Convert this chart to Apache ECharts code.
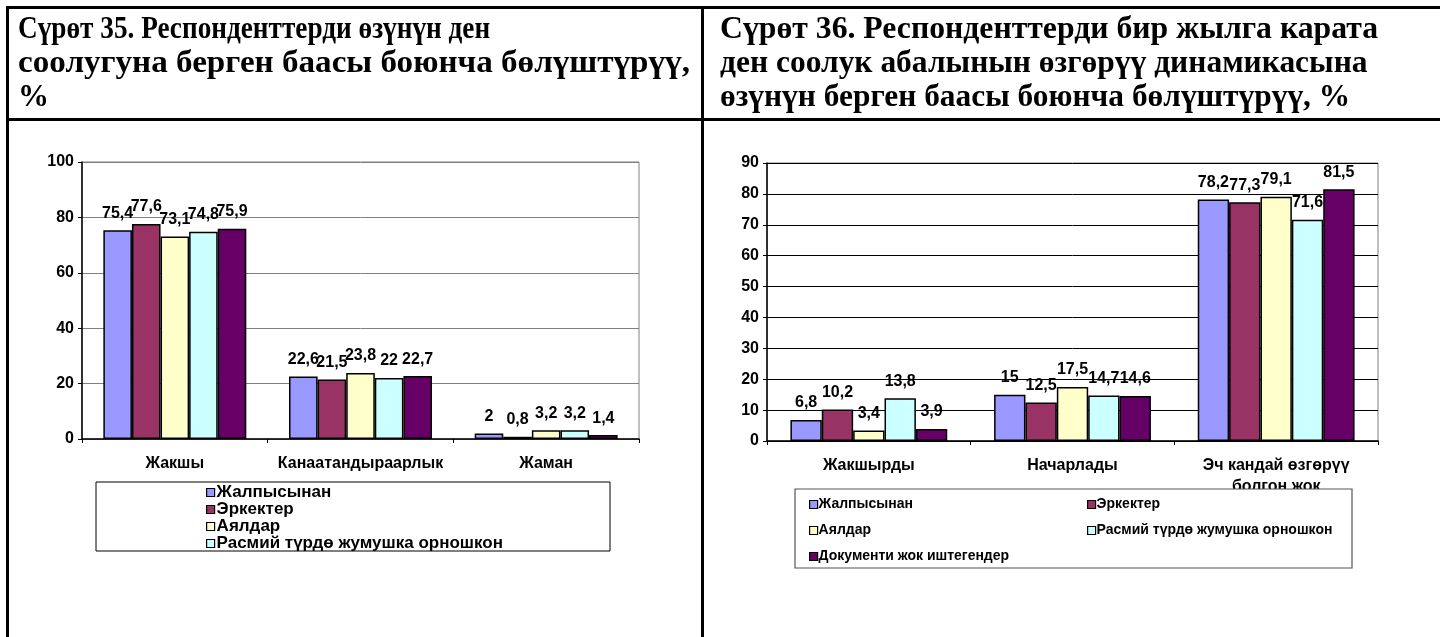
<!DOCTYPE html>
<html>
<head>
<meta charset="utf-8">
<script src="https://cdn.jsdelivr.net/npm/echarts@6/dist/echarts.min.js"></script>
<style>
  html, body { margin: 0; padding: 0; background: #fff; }
  #page { position: relative; width: 1440px; height: 637px; overflow: hidden; }
  #chart { position: absolute; left: 0; top: 0; width: 1440px; height: 637px; }
  .ln { position: absolute; background: #000; }
  .ttl { position: absolute; font-family: "Liberation Serif", "DejaVu Serif", serif; font-weight: bold;
         font-size: 31px; line-height: 34px; white-space: nowrap; transform-origin: left top; color: #000; }
</style>
</head>
<body>
<div id="page">
  <div id="chart"></div>
  <div class="ln" style="left:6px;top:6px;width:1434px;height:3px"></div>
  <div class="ln" style="left:6px;top:6px;width:3px;height:631px"></div>
  <div class="ln" style="left:6px;top:118px;width:1434px;height:3px"></div>
  <div class="ln" style="left:701px;top:6px;width:3px;height:631px"></div>
  <div class="ttl" style="left:18px;top:11px" data-end="490">Сүрөт 35. Респонденттерди өзүнүн ден</div>
  <div class="ttl" style="left:18px;top:45px" data-end="690">соолугуна берген баасы боюнча бөлүштүрүү,</div>
  <div class="ttl" style="left:18px;top:79px" data-end="0">%</div>
  <div class="ttl" style="left:720px;top:11px" data-end="1378">Сүрөт 36. Респонденттерди бир жылга карата</div>
  <div class="ttl" style="left:720px;top:45px" data-end="1368">ден соолук абалынын өзгөрүү  динамикасына</div>
  <div class="ttl" style="left:720px;top:79px" data-end="1350">өзүнүн берген баасы боюнча бөлүштүрүү, %</div>
</div>
<script>
// series names (shared by both charts)
var seriesNames = ['Жалпысынан', 'Эркектер', 'Аялдар', 'Расмий түрдө жумушка орношкон', 'Документи жок иштегендер'];
var colors = ['#9999FF', '#993366', '#FFFFCC', '#CCFFFF', '#660066'];

// chart 35
var cats35 = ['Жакшы', 'Канаатандыраарлык', 'Жаман'];
var vals35 = [
  [75.4, 22.6, 2],
  [77.6, 21.5, 0.8],
  [73.1, 23.8, 3.2],
  [74.8, 22, 3.2],
  [75.9, 22.7, 1.4]
];
var ticks35 = { min: 0, max: 100, interval: 20 };

// chart 36
var cats36 = ['Жакшырды', 'Начарлады', 'Эч кандай өзгөрүү\nболгон жок'];
var vals36 = [
  [6.8, 15, 78.2],
  [10.2, 12.5, 77.3],
  [3.4, 17.5, 79.1],
  [13.8, 14.7, 71.6],
  [3.9, 14.6, 81.5]
];
var ticks36 = { min: 0, max: 90, interval: 10 };

// stretch each title line to the width it has in the picture
document.querySelectorAll('.ttl').forEach(function (el) {
    var end = +el.getAttribute('data-end');
    if (!end) return;
    var w = el.offsetWidth;
    var target = end - parseFloat(el.style.left);
    el.style.transform = 'scaleX(' + (target / w) + ')';
});

var font = 'Arial, "Liberation Sans", sans-serif';

function yAxis(idx, t, gridColor) {
    return {
        type: 'value', gridIndex: idx, min: t.min, max: t.max, interval: t.interval,
        axisLine: { show: true, lineStyle: { color: '#000', width: 1.5 } },
        axisTick: { show: true, length: 4, lineStyle: { color: '#000' } },
        axisLabel: { color: '#000', fontFamily: font, fontWeight: 'bold', fontSize: 16, margin: 8 },
        splitLine: { lineStyle: { color: gridColor, width: 1 } }
    };
}
function xAxis(idx, cats) {
    return {
        type: 'category', gridIndex: idx, data: cats,
        axisLine: { lineStyle: { color: '#000', width: 1.5 } },
        axisTick: { show: true, length: 4, lineStyle: { color: '#000' } },
        axisLabel: { color: '#000', fontFamily: font, fontWeight: 'bold', fontSize: 16, margin: 14, lineHeight: 21, interval: 0 }
    };
}

var series = [];
[vals35, vals36].forEach(function (vals, g) {
    vals.forEach(function (v, i) {
        series.push({
            type: 'bar', name: seriesNames[i], xAxisIndex: g, yAxisIndex: g, data: v,
            barGap: '0%', barCategoryGap: '23%',
            itemStyle: { color: colors[i], borderColor: '#000', borderWidth: 1.5 },
            label: {
                show: true, position: 'top', distance: 9, color: '#000',
                fontFamily: font, fontWeight: 'bold', fontSize: 16,
                formatter: function (p) { return String(p.value).replace('.', ','); }
            },
            emphasis: { disabled: true }
        });
    });
});

var legendBase = {
    orient: 'vertical', icon: 'rect', itemWidth: 8, itemHeight: 8,
    itemStyle: { borderColor: '#000', borderWidth: 1.2 },
    selectedMode: false, padding: 0
};

var chart = echarts.init(document.getElementById('chart'));
chart.setOption({
    animation: false,
    backgroundColor: 'transparent',
    grid: [
        { left: 82, right: 801, top: 162, bottom: 198, show: true, borderColor: '#808080', borderWidth: 1 },
        { left: 767, right: 62, top: 163, bottom: 196, show: true, borderColor: '#808080', borderWidth: 1 }
    ],
    xAxis: [xAxis(0, cats35), xAxis(1, cats36)],
    yAxis: [yAxis(0, ticks35, '#808080'), yAxis(1, ticks36, '#000')],
    graphic: [
        { type: 'rect', z: 50, shape: { x: 96, y: 482, width: 514, height: 69 },
          style: { fill: '#fff', stroke: '#000', lineWidth: 1 } },
        { type: 'rect', z: 50, shape: { x: 795, y: 489, width: 557, height: 79 },
          style: { fill: '#fff', stroke: '#555', lineWidth: 1.2 } }
    ],
    legend: [
        Object.assign({}, legendBase, {
            left: 206, top: 484, itemGap: 0, z: 60,
            data: seriesNames.slice(0, 4),
            textStyle: { color: '#000', fontFamily: font, fontWeight: 'bold', fontSize: 17, lineHeight: 16.5, padding: [0, 0, 0, -3] }
        }),
        Object.assign({}, legendBase, {
            left: 809, top: 496, itemGap: 9, z: 60,
            data: [seriesNames[0], seriesNames[2], seriesNames[4]],
            textStyle: { color: '#000', fontFamily: font, fontWeight: 'bold', fontSize: 14, lineHeight: 17, padding: [0, 0, 0, -4] }
        }),
        Object.assign({}, legendBase, {
            left: 1087, top: 496, itemGap: 9, z: 60,
            data: [seriesNames[1], seriesNames[3]],
            textStyle: { color: '#000', fontFamily: font, fontWeight: 'bold', fontSize: 14, lineHeight: 17, padding: [0, 0, 0, -4] }
        })
    ],
    series: series
});
</script>
</body>
</html>
